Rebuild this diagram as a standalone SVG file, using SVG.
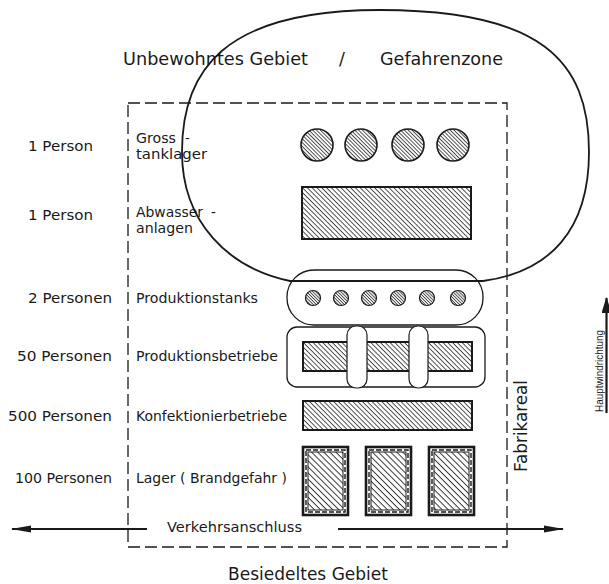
<svg xmlns="http://www.w3.org/2000/svg" width="609" height="584" viewBox="0 0 609 584">
<style>
text{font-family:"DejaVu Sans","Liberation Sans",sans-serif;fill:#1a1a1a}
.lbl{font-size:13.5px}
.ttl{font-size:17.5px}
.ln{fill:none;stroke:#1a1a1a;stroke-width:1.8}
.thin{fill:none;stroke:#1a1a1a;stroke-width:1.3}
.so{stroke:#1a1a1a;stroke-width:1.6}
.st{stroke:#1a1a1a;stroke-width:1.2}
.dash{fill:none;stroke:#1a1a1a;stroke-width:1.3;stroke-dasharray:12 5}
.hs{stroke:#1a1a1a;stroke-width:2}
</style>
<defs>
<pattern id="hR" patternUnits="userSpaceOnUse" width="3.4" height="3.4" patternTransform="rotate(45)"><line x1="0" y1="0.5" x2="3.4" y2="0.5" stroke="#222" stroke-width="0.8"/></pattern>
<pattern id="hC" patternUnits="userSpaceOnUse" width="2.7" height="2.7" patternTransform="rotate(45)"><line x1="0" y1="0.5" x2="2.7" y2="0.5" stroke="#222" stroke-width="0.8"/></pattern>
<pattern id="hD" patternUnits="userSpaceOnUse" width="2.2" height="2.2" patternTransform="rotate(45)"><line x1="0" y1="0.5" x2="2.2" y2="0.5" stroke="#222" stroke-width="0.8"/></pattern>
<pattern id="hL" patternUnits="userSpaceOnUse" width="4.3" height="4.3" patternTransform="rotate(45)"><line x1="0" y1="0.5" x2="4.3" y2="0.5" stroke="#222" stroke-width="0.9"/></pattern>
<marker id="arr" viewBox="0 0 20 8" refX="19" refY="4" markerWidth="20" markerHeight="8" markerUnits="userSpaceOnUse" orient="auto"><path d="M0,0.5 L20,4 L0,7.5 Z" fill="#1a1a1a"/></marker>
<marker id="arrW" viewBox="0 0 16 10" refX="15" refY="5" markerWidth="16" markerHeight="10" markerUnits="userSpaceOnUse" orient="auto"><path d="M0,0 L16,5 L0,10 Z" fill="#1a1a1a"/></marker>
</defs>
<rect width="609" height="584" fill="#fff"/>

<g id="titles">
<text class="ttl" x="123" y="65" textLength="185" lengthAdjust="spacingAndGlyphs">Unbewohntes Gebiet</text>
<text class="ttl" x="339" y="65">/</text>
<text class="ttl" x="380" y="65" textLength="123" lengthAdjust="spacingAndGlyphs">Gefahrenzone</text>
<text class="ttl" x="228" y="580" textLength="160" lengthAdjust="spacingAndGlyphs">Besiedeltes Gebiet</text>
</g>

<g id="fabrikareal">
<rect class="dash" x="128" y="103" width="379" height="444"/>
<text class="ttl" transform="translate(527,472) rotate(-90)" textLength="92" lengthAdjust="spacingAndGlyphs">Fabrikareal</text>
</g>

<g id="row-grosstanklager">
<text class="lbl" x="28" y="151" textLength="65" lengthAdjust="spacingAndGlyphs">1 Person</text>
<text class="lbl" x="136" y="143" textLength="40" lengthAdjust="spacingAndGlyphs">Gross</text>
<text class="lbl" x="185" y="143">-</text>
<text class="lbl" x="136" y="159" textLength="71" lengthAdjust="spacingAndGlyphs">tanklager</text>
<circle cx="317" cy="145" r="16" fill="url(#hC)" class="so"/>
<circle cx="361" cy="145" r="16" fill="url(#hC)" class="so"/>
<circle cx="408" cy="145" r="16" fill="url(#hC)" class="so"/>
<circle cx="453" cy="145" r="16" fill="url(#hC)" class="so"/>
</g>

<g id="row-abwasser">
<text class="lbl" x="28" y="220" textLength="65" lengthAdjust="spacingAndGlyphs">1 Person</text>
<text class="lbl" x="136" y="217" textLength="67" lengthAdjust="spacingAndGlyphs">Abwasser</text>
<text class="lbl" x="211" y="217">-</text>
<text class="lbl" x="136" y="233" textLength="57" lengthAdjust="spacingAndGlyphs">anlagen</text>
<rect x="302" y="187" width="169" height="52" fill="url(#hR)" class="hs"/>
</g>

<g id="row-produktionstanks">
<text class="lbl" x="112" y="303" text-anchor="end" textLength="84" lengthAdjust="spacingAndGlyphs">2 Personen</text>
<text class="lbl" x="136" y="303" textLength="122" lengthAdjust="spacingAndGlyphs">Produktionstanks</text>
<rect class="thin" x="287" y="270" width="196" height="55" rx="27"/>
<circle cx="313" cy="298" r="7.5" fill="url(#hD)" class="st"/>
<circle cx="341" cy="298" r="7.5" fill="url(#hD)" class="st"/>
<circle cx="369" cy="298" r="7.5" fill="url(#hD)" class="st"/>
<circle cx="398" cy="298" r="7.5" fill="url(#hD)" class="st"/>
<circle cx="427" cy="298" r="7.5" fill="url(#hD)" class="st"/>
<circle cx="458" cy="298" r="7.5" fill="url(#hD)" class="st"/>
</g>

<g id="row-produktionsbetriebe">
<text class="lbl" x="112" y="361" text-anchor="end" textLength="95" lengthAdjust="spacingAndGlyphs">50 Personen</text>
<text class="lbl" x="136" y="361" textLength="142" lengthAdjust="spacingAndGlyphs">Produktionsbetriebe</text>
<rect class="thin" x="287" y="327" width="198" height="60" rx="10"/>
<rect x="303" y="342" width="169" height="29" fill="url(#hR)" class="hs"/>
<rect x="347" y="326" width="20" height="62" rx="9" fill="#fff" class="st"/>
<rect x="409" y="326" width="19" height="62" rx="9" fill="#fff" class="st"/>
</g>

<g id="row-konfektionierbetriebe">
<text class="lbl" x="112" y="421" text-anchor="end" textLength="104" lengthAdjust="spacingAndGlyphs">500 Personen</text>
<text class="lbl" x="136" y="421" textLength="151" lengthAdjust="spacingAndGlyphs">Konfektionierbetriebe</text>
<rect x="303" y="401" width="169" height="29" fill="url(#hR)" class="hs"/>
</g>

<g id="row-lager">
<text class="lbl" x="112" y="483" text-anchor="end" textLength="97" lengthAdjust="spacingAndGlyphs">100 Personen</text>
<text class="lbl" x="136" y="483" textLength="151" lengthAdjust="spacingAndGlyphs">Lager ( Brandgefahr )</text>
<g id="lager1">
<rect x="303" y="447" width="45" height="68" fill="none" stroke="#1a1a1a" stroke-width="2.6"/>
<rect x="306" y="450" width="39" height="62" fill="none" stroke="#1a1a1a" stroke-width="1.4" stroke-dasharray="5 2"/>
<rect x="308" y="452" width="35" height="58" fill="url(#hL)" stroke="#1a1a1a" stroke-width="1"/>
</g>
<g id="lager2">
<rect x="366" y="447" width="45" height="68" fill="none" stroke="#1a1a1a" stroke-width="2.6"/>
<rect x="369" y="450" width="39" height="62" fill="none" stroke="#1a1a1a" stroke-width="1.4" stroke-dasharray="5 2"/>
<rect x="371" y="452" width="35" height="58" fill="url(#hL)" stroke="#1a1a1a" stroke-width="1"/>
</g>
<g id="lager3">
<rect x="429" y="447" width="45" height="68" fill="none" stroke="#1a1a1a" stroke-width="2.6"/>
<rect x="432" y="450" width="39" height="62" fill="none" stroke="#1a1a1a" stroke-width="1.4" stroke-dasharray="5 2"/>
<rect x="434" y="452" width="35" height="58" fill="url(#hL)" stroke="#1a1a1a" stroke-width="1"/>
</g>
</g>

<g id="gefahrenzone">
<path class="ln" d="M290,281 C228,268 182,222 182,152 C182,72 222,10 380,10 C540,10 589,60 589,152 C589,230 550,272 483,281 L290,281 Z"/>
</g>

<g id="connectors">
<line class="ln" x1="147" y1="529" x2="12" y2="529" marker-end="url(#arr)"/>
<line class="ln" x1="338" y1="529" x2="563" y2="529" marker-end="url(#arr)"/>
<line x1="606.5" y1="413" x2="606.5" y2="298" stroke="#1a1a1a" stroke-width="2.2" marker-end="url(#arrW)"/>
</g>
<g id="labels">
<text class="lbl" x="167" y="532" textLength="135" lengthAdjust="spacingAndGlyphs">Verkehrsanschluss</text>
<text transform="translate(603,412) rotate(-90)" font-size="11.5" style="font-family:'Liberation Sans',sans-serif" textLength="82" lengthAdjust="spacingAndGlyphs">Hauptwindrichtung</text>
</g>
</svg>
